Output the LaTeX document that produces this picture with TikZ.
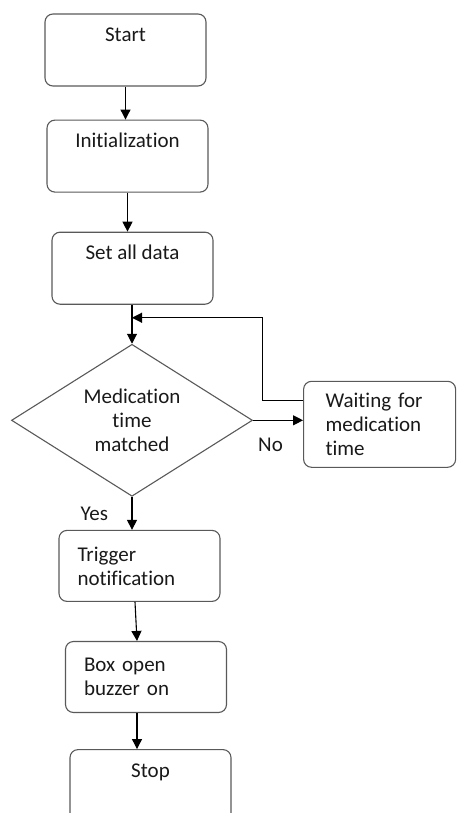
\documentclass[tikz,border=0pt]{standalone}
\usepackage{fontspec}
\setmainfont{Carlito}[Ligatures=NoCommon]
\usetikzlibrary{arrows.meta, positioning, shapes.geometric}

\begin{document}
\begin{tikzpicture}[
    topbox/.style = {draw=black!65, line width=1.1pt, rounded corners=8pt, minimum width=161pt, inner ysep=0pt, text height=27.5pt, text depth=44.5pt},
    textbox/.style = {draw=black!65, line width=1.1pt, rounded corners=8pt, minimum width=161pt, minimum height=71pt, align=left, text width=124pt, inner xsep=18.5pt},
    decision/.style = {diamond, draw=black!65, line width=1.1pt, aspect=1.6, minimum width=241pt, minimum height=152pt, inner sep=0pt, align=center},
    arrow/.style = {-{Triangle[length=10pt, width=10pt]}, line width=1.1pt},
    every node/.style={font=\fontsize{21}{24}\selectfont, text=black!90}
  ]
  \useasboundingbox (0,0) rectangle (456pt,-813pt);
  \clip (0,0) rectangle (456pt,-813pt);

  % Start and setup
  \node[topbox] (start) at (125.5pt,-50pt) {Start};
  \node[topbox, below=33pt of start, xshift=2pt] (init) {Initialization};
  \node[topbox, below=39pt of init, xshift=5pt] (setdata) {Set all data};

  % Check medication time
  \node[decision, below=39pt of setdata, xshift=-0.5pt] (check) {Medication\\time\\matched};
  \node[textbox, right=50pt of check, yshift=-4pt, minimum width=152pt, minimum height=86pt, text width=108pt, inner xsep=22pt] (wait) {Waiting for\\medication\\time};
  \coordinate[below=13pt of setdata.south -| check.north] (join);

  % Alarm and stop
  \node[textbox, below=33pt of check, xshift=7.5pt] (trigger) {Trigger\\notification};
  \node[textbox, below=39pt of trigger, xshift=6.5pt] (buzzer) {Box open\\buzzer on};
  \node[topbox, below=36pt of buzzer, xshift=4.5pt] (stop) {Stop};

  % Arrows
  \draw[arrow] (start.south) -- (init.north -| start.south);
  \draw[arrow] (init.south) -- (setdata.north -| init.south);
  \draw[arrow] (setdata.south -| check.north) -- (check.north);
  \draw[arrow] (check.east) -- node[pos=0.35, below=14pt] {No} (wait.west |- check.east);
  \draw[arrow] ([yshift=-20pt]wait.north west) -- ++(-41pt,0)   % out of wait box
       |- (join);                                                 % back into the loop
  \draw[arrow] (check.south) -- node[left=20pt] {Yes} (trigger.north -| check.south);
  \draw[arrow] ([xshift=-4.5pt]trigger.south) -- ([xshift=-9pt]buzzer.north);
  \draw[arrow] ([xshift=-9pt]buzzer.south) -- ([xshift=-13.5pt]stop.north);

\end{tikzpicture}
\end{document}
